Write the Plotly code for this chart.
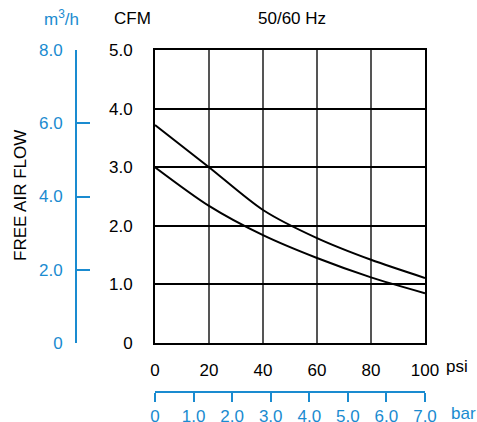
import plotly.graph_objects as go

W, H = 477, 422

psi = [0, 20, 40, 60, 80, 100]
cfm_upper = [3.72, 3.00, 2.27, 1.79, 1.42, 1.11]
cfm_lower = [3.00, 2.34, 1.84, 1.45, 1.12, 0.85]

cfm_ticks = [0, 1, 2, 3, 4, 5]
cfm_ticktext = ["0", "1.0", "2.0", "3.0", "4.0", "5.0"]
psi_ticks = [0, 20, 40, 60, 80, 100]
m3h_ticks = [0, 2, 4, 6, 8]
m3h_ticktext = ["0", "2.0", "4.0", "6.0", "8.0"]
bar_ticks = [0, 1, 2, 3, 4, 5, 6, 7]
bar_ticktext = ["0", "1.0", "2.0", "3.0", "4.0", "5.0", "6.0", "7.0"]

BLUE = "#1a8bd0"
FONT = "Liberation Sans, Arial, sans-serif"
FS = 17

def px_x(p):
    return p / W

def px_y(p):
    return 1 - p / H

fig = go.Figure()
for ys in (cfm_upper, cfm_lower):
    fig.add_trace(go.Scatter(x=psi, y=ys, mode="lines",
                             line=dict(color="black", width=2, shape="spline", smoothing=0.8),
                             hoverinfo="skip", showlegend=False))
# invisible trace to activate secondary axes
fig.add_trace(go.Scatter(x=[0], y=[0], xaxis="x2", yaxis="y2", mode="markers",
                         marker=dict(opacity=0), hoverinfo="skip", showlegend=False))

fig.update_layout(
    width=W, height=H,
    margin=dict(l=0, r=0, t=0, b=0, autoexpand=False),
    paper_bgcolor="white", plot_bgcolor="white",
    font=dict(family=FONT, size=FS, color="black"),
    xaxis=dict(domain=[px_x(155), px_x(425)], range=[0, 100], anchor="y", automargin=False,
               tickvals=psi_ticks, ticks="", showgrid=True, gridcolor="#555", gridwidth=1.5,
               showline=True, linecolor="black", linewidth=2, mirror=True,
               zeroline=False, ticklabelstandoff=11, tickfont=dict(size=FS)),
    yaxis=dict(domain=[px_y(343), px_y(50)], range=[0, 5], anchor="x", automargin=False,
               tickvals=cfm_ticks, ticktext=cfm_ticktext, ticks="", showgrid=True,
               gridcolor="black", gridwidth=2,
               showline=True, linecolor="black", linewidth=2, mirror=True,
               zeroline=False, ticklabelstandoff=17, tickfont=dict(size=FS)),
    xaxis2=dict(domain=[px_x(154), px_x(428)], range=[0, 7], anchor="free", overlaying="x",
                automargin=False,
                position=px_y(392), side="bottom", tickvals=bar_ticks, ticktext=bar_ticktext,
                ticks="outside", ticklen=9, tickwidth=2, tickcolor=BLUE,
                showline=True, linecolor=BLUE, linewidth=2, showgrid=False, zeroline=False,
                tickfont=dict(color=BLUE, size=FS), ticklabelstandoff=0),
    yaxis2=dict(domain=[px_y(342), px_y(63)], range=[0, 8], anchor="free", overlaying="y",
                automargin=False,
                position=px_x(76), side="left", tickvals=m3h_ticks, ticktext=m3h_ticktext,
                ticks="inside", ticklen=13, tickwidth=2, tickcolor=BLUE,
                showline=True, linecolor=BLUE, linewidth=2, showgrid=False, zeroline=False,
                tickfont=dict(color=BLUE, size=FS), ticklabelstandoff=9),
)

ann = [
    dict(text="m<sup>3</sup>/h", x=px_x(62), y=px_y(18), color=BLUE, xa="center"),
    dict(text="CFM", x=px_x(132), y=px_y(18), color="black", xa="center"),
    dict(text="50/60 Hz", x=px_x(292), y=px_y(18), color="black", xa="center"),
    dict(text="psi", x=px_x(446), y=px_y(366), color="black", xa="left"),
    dict(text="bar", x=px_x(451), y=px_y(413), color=BLUE, xa="left"),
]
for a in ann:
    fig.add_annotation(text=a["text"], x=a["x"], y=a["y"], xref="paper", yref="paper",
                       showarrow=False, xanchor=a["xa"], yanchor="middle",
                       borderpad=0, borderwidth=0,
                       font=dict(family=FONT, size=FS, color=a["color"]))
fig.add_annotation(text="FREE AIR FLOW", x=px_x(20), y=px_y(196), xref="paper", yref="paper",
                   showarrow=False, textangle=-90, xanchor="center", yanchor="middle",
                   font=dict(family=FONT, size=FS, color="black"))

fig.write_html(
    "out.html",
    config={"displayModeBar": False, "staticPlot": True},
    post_script="document.body.style.margin='0';document.documentElement.style.overflow='hidden';",
)
